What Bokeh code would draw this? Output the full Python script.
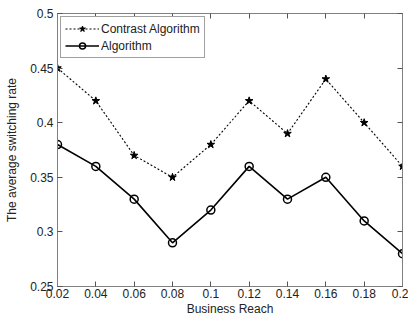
from bokeh.plotting import figure
from bokeh.models import LinearAxis, Range1d, FixedTicker, Legend, LegendItem
from bokeh.embed import file_html
from bokeh.resources import INLINE

x_vals = [0.02, 0.04, 0.06, 0.08, 0.10, 0.12, 0.14, 0.16, 0.18, 0.20]
contrast = [0.45, 0.42, 0.37, 0.35, 0.38, 0.42, 0.39, 0.44, 0.40, 0.36]
algorithm = [0.38, 0.36, 0.33, 0.29, 0.32, 0.36, 0.33, 0.35, 0.31, 0.28]
x_ticks = [0.02, 0.04, 0.06, 0.08, 0.10, 0.12, 0.14, 0.16, 0.18, 0.20]
x_labels = {0.02: "0.02", 0.04: "0.04", 0.06: "0.06", 0.08: "0.08", 0.1: "0.1",
            0.12: "0.12", 0.14: "0.14", 0.16: "0.16", 0.18: "0.18", 0.2: "0.2"}
y_ticks = [0.25, 0.3, 0.35, 0.4, 0.45, 0.5]
y_labels = {0.25: "0.25", 0.3: "0.3", 0.35: "0.35", 0.4: "0.4", 0.45: "0.45", 0.5: "0.5"}

FONT = "Liberation Sans"
AX_COL = "#808080"

p = figure(frame_width=345, frame_height=273, output_backend="svg", toolbar_location=None,
           x_range=Range1d(0.02, 0.2), y_range=Range1d(0.25, 0.5),
           min_border_left=57, min_border_right=6, min_border_top=13, min_border_bottom=28,
           x_axis_location=None, y_axis_location=None)
p.grid.visible = False
p.outline_line_color = AX_COL
p.outline_line_width = 1
p.background_fill_color = "white"
p.border_fill_color = "white"

def style_axis(ax, labels, show_labels):
    ax.axis_line_color = AX_COL
    ax.major_tick_line_color = "#555555"
    ax.major_tick_in = 5
    ax.major_tick_out = 0
    ax.minor_tick_line_color = None
    ax.major_label_text_font = FONT
    ax.major_label_text_font_size = "12px"
    ax.major_label_text_color = "#222222" if show_labels else None
    ax.major_label_overrides = labels
    ax.axis_label_text_font = FONT
    ax.axis_label_text_font_size = "12px"
    ax.axis_label_text_font_style = "normal"
    ax.axis_label_text_color = "#222222"
    ax.major_label_standoff = 3

bx = LinearAxis(ticker=FixedTicker(ticks=x_ticks), axis_label="Business Reach")
style_axis(bx, x_labels, True)
bx.major_label_standoff = 2
bx.axis_label_standoff = 1
p.add_layout(bx, "below")
tx = LinearAxis(ticker=FixedTicker(ticks=x_ticks))
style_axis(tx, x_labels, False)
tx.major_label_text_font_size = "0px"
tx.major_label_standoff = 0
p.add_layout(tx, "above")

ly = LinearAxis(ticker=FixedTicker(ticks=y_ticks), axis_label="The average switching rate")
style_axis(ly, y_labels, True)
ly.major_label_standoff = 4
ly.axis_label_standoff = 8
p.add_layout(ly, "left")
ry = LinearAxis(ticker=FixedTicker(ticks=y_ticks))
style_axis(ry, y_labels, False)
ry.major_label_text_font_size = "0px"
ry.major_label_standoff = 0
p.add_layout(ry, "right")

l1 = p.line(x_vals, contrast, line_color="black", line_width=1.1, line_dash="2 2")
m1 = p.scatter(x_vals, contrast, marker="star", size=8, fill_color="black", line_color="black")
l2 = p.line(x_vals, algorithm, line_color="black", line_width=1.6)
m2 = p.scatter(x_vals, algorithm, marker="circle", size=8, fill_color=None, line_color="black", line_width=1.5)

legend = Legend(items=[LegendItem(label="Contrast Algorithm", renderers=[l1, m1]),
                       LegendItem(label="Algorithm", renderers=[l2, m2])],
                location="top_left")
legend.label_text_font = FONT
legend.label_text_font_size = "12px"
legend.label_text_color = "#222222"
legend.border_line_color = "#444444"
legend.border_line_width = 1
legend.glyph_width = 34
legend.glyph_height = 15
legend.label_height = 15
legend.spacing = 2
legend.padding = 4
legend.margin = 3
legend.label_standoff = 2
legend.background_fill_alpha = 1
p.add_layout(legend)

open("out.html", "w").write(file_html(p, INLINE))
